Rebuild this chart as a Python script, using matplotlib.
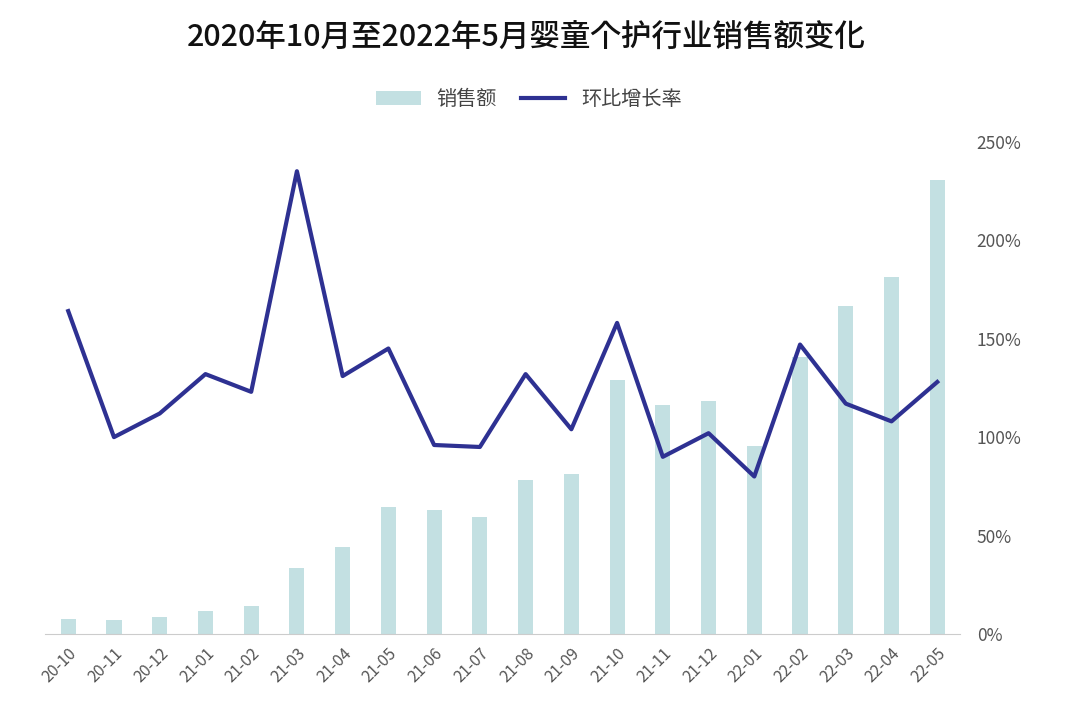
import matplotlib
matplotlib.use("Agg")
import matplotlib.pyplot as plt
from matplotlib.ticker import FuncFormatter

plt.rcParams["font.family"] = "sans-serif"
plt.rcParams["font.sans-serif"] = ["Noto Sans CJK SC", "Noto Sans CJK JP", "DejaVu Sans"]

months = ["20-10","20-11","20-12","21-01","21-02","21-03","21-04","21-05","21-06","21-07",
          "21-08","21-09","21-10","21-11","21-12","22-01","22-02","22-03","22-04","22-05"]
sales = [15,14,17,23,28,66,87,127,124,117,154,160,254,229,233,188,277,328,357,454]
growth = [164,100,112,132,123,235,131,145,96,95,132,104,158,90,102,80,147,117,108,128]

fig = plt.figure(figsize=(10.8,7.23), dpi=100)
ax = fig.add_axes([0.042,0.123,0.847,0.681])
x = list(range(len(months)))
ax.bar(x, sales, width=0.33, color="#c3e0e2", label="销售额", zorder=1)
ax.set_ylim(0, 492)
ax.set_xlim(-0.5, len(months)-0.5)
ax.set_yticks([])
for s in ["top","left","right"]:
    ax.spines[s].set_visible(False)
ax.spines["bottom"].set_color("#cccccc")
ax.set_xticks(x)
ax.set_xticklabels(months, rotation=45, ha="right", rotation_mode="anchor", fontsize=11.5, color="#555555")
ax.tick_params(axis="x", length=0, pad=8)

ax2 = ax.twinx()
ax2.plot(x, growth, color="#2e3192", lw=3, label="环比增长率", zorder=3)
ax2.set_ylim(0, 250)
ax2.set_yticks([0,50,100,150,200,250])
ax2.yaxis.set_major_formatter(FuncFormatter(lambda v,p: f"{int(v)}%"))
ax2.tick_params(axis="y", length=0, labelsize=12.5, labelcolor="#555555", pad=12)
for s in ["top","left","right","bottom"]:
    ax2.spines[s].set_visible(False)

h1,l1 = ax.get_legend_handles_labels()
h2,l2 = ax2.get_legend_handles_labels()
fig.legend(h1+h2, l1+l2, loc="center", bbox_to_anchor=(0.49, 0.862), ncol=2, frameon=False,
           fontsize=14.5, handlelength=2.2, columnspacing=1.2, labelcolor="#444444")
fig.text(0.487, 0.947, "2020年10月至2022年5月婴童个护行业销售额变化", ha="center", va="center",
         fontsize=22, fontweight="medium", color="#111111")
fig.savefig("out.png", dpi=100)
